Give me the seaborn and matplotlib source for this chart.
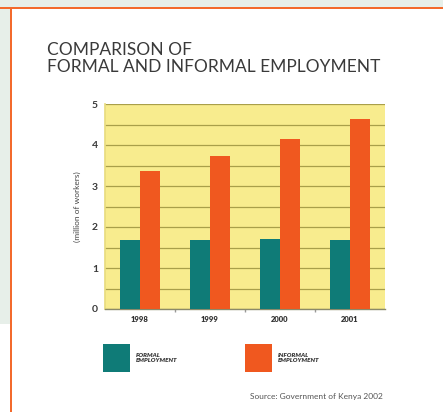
import numpy as np
import pandas as pd
import seaborn as sns
import matplotlib.pyplot as plt
from matplotlib.patches import Rectangle

# data (million of workers)
years = ['1998', '1999', '2000', '2001']
formal = [1.68, 1.69, 1.70, 1.69]
informal = [3.37, 3.74, 4.15, 4.63]
series_names = ['FORMAL\nEMPLOYMENT', 'INFORMAL\nEMPLOYMENT']
colors = ['#0f7b77', '#f0581f']
y_ticks = [0, 1, 2, 3, 4, 5]

df = pd.DataFrame({
    'year': years * 2,
    'workers': formal + informal,
    'type': [series_names[0]] * 4 + [series_names[1]] * 4,
})

sns.set_theme(style='white')
plt.rcParams['font.family'] = ['Lato', 'DejaVu Sans']

fig = plt.figure(figsize=(4.43, 4.12), dpi=100)
fig.patch.set_facecolor('white')

W, H = 443, 412
# page background strips and orange frame
fig.patches.append(Rectangle((0, 1 - 7 / H), 1, 7 / H, transform=fig.transFigure,
                             facecolor='#e7efe9', edgecolor='none', zorder=0))
fig.patches.append(Rectangle((0, 1 - 324 / H), 10 / W, 324 / H, transform=fig.transFigure,
                             facecolor='#e7efe9', edgecolor='none', zorder=0))
fig.patches.append(Rectangle((0, 1 - 9 / H), 1, 2.2 / H, transform=fig.transFigure,
                             facecolor='#f36a2c', edgecolor='none', zorder=1))
fig.patches.append(Rectangle((9.5 / W, 0), 2 / W, 1 - 7 / H, transform=fig.transFigure,
                             facecolor='#f36a2c', edgecolor='none', zorder=1))

ax = fig.add_axes([105 / W, 1 - 309 / H, 280 / W, 205 / H])
ax.set_facecolor('#f8ec8e')

sns.barplot(data=df, x='year', y='workers', hue='type', palette=colors,
            width=0.58, saturation=1, ax=ax, legend=False, zorder=3,
            edgecolor='none', linewidth=0)

ax.set_ylim(0, 5)
ax.set_xlim(-0.5, 3.5)
ax.set_yticks(y_ticks)
ax.set_yticks(np.arange(0.5, 5, 1), minor=True)
ax.yaxis.grid(True, which='both', color='#a99f4a', lw=0.9, zorder=1)
ax.set_axisbelow(True)
ax.set_yticklabels([str(t) for t in y_ticks], fontsize=7.5, color='#3a3a3a', fontweight='bold')
ax.set_xticks(range(len(years)))
ax.set_xticklabels(years, fontsize=5.5, color='#333333', fontweight='heavy')
ax.set_xticks([0.5, 1.5, 2.5], minor=True)
ax.tick_params(axis='y', which='both', length=0, pad=5)
ax.tick_params(axis='x', which='major', length=0, pad=5)
ax.tick_params(axis='x', which='minor', length=2, color='#999999', direction='out', bottom=True)
ax.set_xlabel('')
ax.set_ylabel('(million of workers)', fontsize=6, color='#444444', labelpad=8)
for side in ['top', 'right']:
    ax.spines[side].set_visible(False)
ax.spines['left'].set_color('#e8dc80')
ax.spines['bottom'].set_color('#8a8a6a')
ax.spines['bottom'].set_linewidth(1)

# title
fig.text(47 / W, 1 - 42 / H, 'COMPARISON OF\nFORMAL AND INFORMAL EMPLOYMENT',
         fontsize=12.5, fontweight='normal', color='#3a3a3a', va='top', ha='left',
         linespacing=1.05)

# legend
for i, (name, c) in enumerate(zip(series_names, colors)):
    x0 = [103, 245][i]
    fig.patches.append(Rectangle((x0 / W, 1 - 372 / H), 27 / W, 28 / H,
                                 transform=fig.transFigure, facecolor=c, edgecolor='none'))
    fig.text((x0 + 33) / W, 1 - 358 / H, name, fontsize=4.5, fontweight='heavy',
             style='italic', color='#3a3a3a', va='center', ha='left', linespacing=1.2)

fig.text(250 / W, 1 - 396 / H, 'Source: Government of Kenya 2002', fontsize=6,
         color='#555555', va='center', ha='left')

fig.savefig('out.png', dpi=100)
